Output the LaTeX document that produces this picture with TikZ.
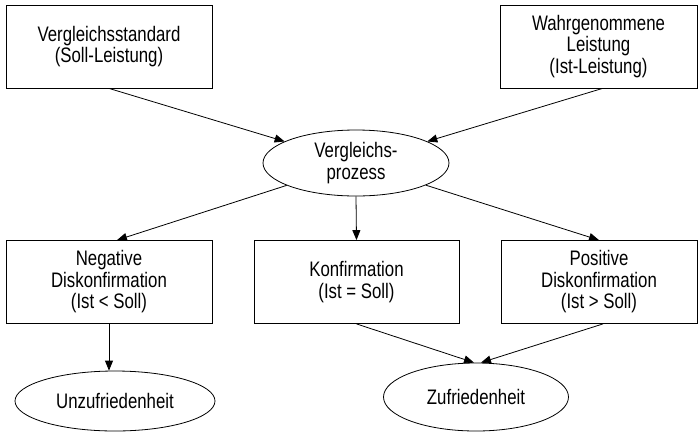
\documentclass[tikz,border=0pt]{standalone}
\usepackage{fontspec}
\setmainfont{Liberation Sans}[FakeStretch=0.8]
\usetikzlibrary{arrows.meta,shapes.geometric}
\begin{document}
\begin{tikzpicture}[x=1pt,y=-1pt,
  font=\fontsize{21}{21.5}\selectfont,
  line width=0.8pt,
  box/.style={draw,rectangle,align=center,inner sep=0pt,minimum height=83pt},
  oval/.style={draw,ellipse,align=center,inner sep=0pt},
  arr/.style={-{Triangle[length=10pt,width=8pt]}}]
\useasboundingbox (0,0) rectangle (699,432);

% Eingangsgrößen
\node[box,minimum width=206pt] (soll) at (109,46.5) {Vergleichsstandard\\(Soll-Leistung)};
\node[box,minimum width=197pt] (ist) at (598.5,46.5) {Wahrgenommene\\Leistung\\(Ist-Leistung)};

% Vergleich
\node[oval,minimum width=186pt,minimum height=66pt] (cmp) at (356,163) {Vergleichs-\\prozess};

% Ergebnisse des Vergleichs
\node[box,minimum width=206pt] (neg) at (109,282) {Negative\\Diskonfirmation\\(Ist < Soll)};
\node[box,minimum width=205pt] (kon) at (356.5,282) {Konfirmation\\(Ist = Soll)};
\node[box,minimum width=196pt] (pos) at (599,282) {Positive\\Diskonfirmation\\(Ist > Soll)};

% Zufriedenheitsurteil
\node[oval,minimum width=200pt,minimum height=60pt] (unz) at (115,401) {Unzufriedenheit};
\node[oval,minimum width=185pt,minimum height=68pt] (zuf) at (476,397) {Zufriedenheit};

% Verbindungen
\draw[arr] (soll.south) -- (cmp);
\draw[arr] ([xshift=4pt]ist.south) -- (cmp);
\draw[arr] (cmp) -- ([xshift=8pt]neg.north);
\draw[arr] (cmp.south) -- (kon.north);
\draw[arr] (cmp) -- (pos.north);
\draw[arr] (neg.south) -- (neg.south |- unz.north);
\draw[arr] (kon.south) -- ([xshift=-2pt]zuf.north);
\draw[arr] ([xshift=4pt]pos.south) -- ([xshift=5pt]zuf.north);
\end{tikzpicture}
\end{document}
